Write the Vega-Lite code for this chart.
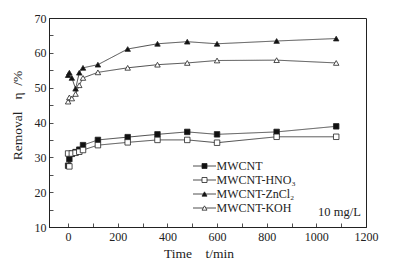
{
  "$schema": "https://vega.github.io/schema/vega-lite/v6.json",
  "width": 317,
  "height": 209,
  "autosize": "none",
  "padding": {"left": 49, "top": 18, "right": 27, "bottom": 41},
  "background": "white",
  "config": {
    "font": "Liberation Serif",
    "view": {"stroke": "#222", "strokeWidth": 1},
    "axis": {
      "grid": false,
      "domainColor": "#222",
      "tickColor": "#222",
      "labelColor": "#222",
      "titleColor": "#222",
      "labelFont": "Liberation Serif",
      "titleFont": "Liberation Serif",
      "labelFontSize": 12,
      "titleFontSize": 13.5,
      "titleFontWeight": "normal",
      "tickSize": -4,
      "tickWidth": 0.8,
      "domainWidth": 1
    }
  },
  "data": {
    "values": [
      {"series": "MWCNT", "t": 0, "v": 27.6},
      {"series": "MWCNT", "t": 5, "v": 29.5},
      {"series": "MWCNT", "t": 15, "v": 31.0},
      {"series": "MWCNT", "t": 30, "v": 31.5},
      {"series": "MWCNT", "t": 45, "v": 32.2},
      {"series": "MWCNT", "t": 60, "v": 33.5},
      {"series": "MWCNT", "t": 120, "v": 35.0},
      {"series": "MWCNT", "t": 240, "v": 35.8},
      {"series": "MWCNT", "t": 360, "v": 36.6},
      {"series": "MWCNT", "t": 480, "v": 37.3},
      {"series": "MWCNT", "t": 600, "v": 36.6},
      {"series": "MWCNT", "t": 840, "v": 37.3},
      {"series": "MWCNT", "t": 1080, "v": 38.9},
      {"series": "MWCNT-HNO₃", "t": 0, "v": 31.1},
      {"series": "MWCNT-HNO₃", "t": 5, "v": 27.4},
      {"series": "MWCNT-HNO₃", "t": 15, "v": 31.1},
      {"series": "MWCNT-HNO₃", "t": 30, "v": 31.3},
      {"series": "MWCNT-HNO₃", "t": 45, "v": 31.6},
      {"series": "MWCNT-HNO₃", "t": 60, "v": 32.1},
      {"series": "MWCNT-HNO₃", "t": 120, "v": 33.5},
      {"series": "MWCNT-HNO₃", "t": 240, "v": 34.3},
      {"series": "MWCNT-HNO₃", "t": 360, "v": 35.0},
      {"series": "MWCNT-HNO₃", "t": 480, "v": 35.0},
      {"series": "MWCNT-HNO₃", "t": 600, "v": 34.2},
      {"series": "MWCNT-HNO₃", "t": 840, "v": 35.9},
      {"series": "MWCNT-HNO₃", "t": 1080, "v": 35.9},
      {"series": "MWCNT-ZnCl₂", "t": 0, "v": 53.6},
      {"series": "MWCNT-ZnCl₂", "t": 5, "v": 54.3},
      {"series": "MWCNT-ZnCl₂", "t": 15, "v": 52.8},
      {"series": "MWCNT-ZnCl₂", "t": 30, "v": 49.7},
      {"series": "MWCNT-ZnCl₂", "t": 45, "v": 54.3},
      {"series": "MWCNT-ZnCl₂", "t": 60, "v": 55.7},
      {"series": "MWCNT-ZnCl₂", "t": 120, "v": 56.6},
      {"series": "MWCNT-ZnCl₂", "t": 240, "v": 61.1},
      {"series": "MWCNT-ZnCl₂", "t": 360, "v": 62.6},
      {"series": "MWCNT-ZnCl₂", "t": 480, "v": 63.2},
      {"series": "MWCNT-ZnCl₂", "t": 600, "v": 62.6},
      {"series": "MWCNT-ZnCl₂", "t": 840, "v": 63.4},
      {"series": "MWCNT-ZnCl₂", "t": 1080, "v": 64.1},
      {"series": "MWCNT-KOH", "t": 0, "v": 46.0},
      {"series": "MWCNT-KOH", "t": 5, "v": 47.2},
      {"series": "MWCNT-KOH", "t": 15, "v": 46.9},
      {"series": "MWCNT-KOH", "t": 30, "v": 48.2},
      {"series": "MWCNT-KOH", "t": 45, "v": 50.7},
      {"series": "MWCNT-KOH", "t": 60, "v": 52.8},
      {"series": "MWCNT-KOH", "t": 120, "v": 54.4},
      {"series": "MWCNT-KOH", "t": 240, "v": 55.7},
      {"series": "MWCNT-KOH", "t": 360, "v": 56.6},
      {"series": "MWCNT-KOH", "t": 480, "v": 57.1},
      {"series": "MWCNT-KOH", "t": 600, "v": 57.8},
      {"series": "MWCNT-KOH", "t": 840, "v": 57.9},
      {"series": "MWCNT-KOH", "t": 1080, "v": 57.1}
    ]
  },
  "encoding": {
    "x": {
      "field": "t", "type": "quantitative",
      "scale": {"domain": [-77, 1200], "nice": false, "zero": false},
      "axis": {
        "title": "Time\u2003t/min",
        "format": "d",
        "values": [0, 100, 200, 300, 400, 500, 600, 700, 800, 900, 1000, 1100, 1200],
        "labelExpr": "datum.value % 200 == 0 ? datum.label : ''",
        "labelPadding": 8,
        "titleX": 149.5,
        "titleY": 26,
        "titleBaseline": "middle",
        "labelFlush": false
      }
    },
    "y": {
      "field": "v", "type": "quantitative",
      "scale": {"domain": [10, 70], "nice": false, "zero": false},
      "axis": {
        "title": "Removal\u2002\u2009\u2009η\u2002/%",
        "values": [10, 15, 20, 25, 30, 35, 40, 45, 50, 55, 60, 65, 70],
        "labelExpr": "datum.value % 10 == 0 ? datum.label : ''",
        "labelPadding": 7,
        "titleX": -31.5,
        "titleY": 97,
        "titleBaseline": "middle",
        "labelFlush": false
      }
    }
  },
  "layer": [
    {
      "mark": {"type": "line", "color": "#222", "strokeWidth": 0.8},
      "encoding": {
        "detail": {"field": "series"},
        "order": {"field": "t"},
        "strokeDash": {
          "field": "series", "type": "nominal",
          "scale": {"domain": ["MWCNT-KOH", "MWCNT", "MWCNT-HNO₃", "MWCNT-ZnCl₂"], "range": [[1, 0], [1, 0], [1, 0], [1, 0]]},
          "legend": {
            "orient": "none", "legendX": 149.5, "legendY": 142, "title": null,
            "symbolType": "M-4.6,0H4.6", "symbolSize": 25, "symbolStrokeWidth": 0.8, "symbolStrokeColor": "#222",
            "labelFontSize": 12, "labelExpr": "''", "rowPadding": 2, "padding": 0, "zindex": 0
          }
        }
      }
    },
    {
      "mark": {"type": "point", "filled": false, "strokeWidth": 0.8, "opacity": 1},
      "encoding": {
        "shape": {
          "field": "series", "type": "nominal",
          "scale": {"domain": ["MWCNT", "MWCNT-HNO₃", "MWCNT-ZnCl₂", "MWCNT-KOH"], "range": ["square", "square", "triangle-up", "triangle-up"]},
          "legend": {
            "orient": "none", "legendX": 149.5, "legendY": 142, "title": null,
            "symbolSize": 25, "symbolStrokeWidth": 0.8,
            "labelFontSize": 12, "labelColor": "#222", "labelOffset": 6, "rowPadding": 2, "padding": 0, "zindex": 1
          }
        },
        "fill": {
          "field": "series", "type": "nominal",
          "scale": {"domain": ["MWCNT", "MWCNT-HNO₃", "MWCNT-ZnCl₂", "MWCNT-KOH"], "range": ["#111", "#ffffff", "#111", "#ffffff"]},
          "legend": {
            "orient": "none", "legendX": 149.5, "legendY": 142, "title": null,
            "symbolSize": 25, "symbolStrokeWidth": 0.8,
            "labelFontSize": 12, "labelColor": "#222", "labelOffset": 6, "rowPadding": 2, "padding": 0, "zindex": 1
          }
        },
        "stroke": {
          "field": "series", "type": "nominal",
          "scale": {"domain": ["MWCNT", "MWCNT-HNO₃", "MWCNT-ZnCl₂", "MWCNT-KOH"], "range": ["#222", "#222", "#222", "#222"]},
          "legend": {
            "orient": "none", "legendX": 149.5, "legendY": 142, "title": null,
            "symbolSize": 25, "symbolStrokeWidth": 0.8,
            "labelFontSize": 12, "labelColor": "#222", "labelOffset": 6, "rowPadding": 2, "padding": 0, "zindex": 1
          }
        },
        "size": {
          "field": "series", "type": "nominal",
          "scale": {"domain": ["MWCNT-KOH", "MWCNT-ZnCl₂", "MWCNT", "MWCNT-HNO₃"], "range": [30, 30, 22, 22]},
          "legend": null
        }
      }
    },
    {
      "data": {"values": [{"label": "10 mg/L", "t": 1093, "v": 14.3}]},
      "mark": {"type": "text", "fontSize": 12.5, "color": "#222", "align": "center", "baseline": "middle"},
      "encoding": {"text": {"field": "label"}}
    }
  ]
}
